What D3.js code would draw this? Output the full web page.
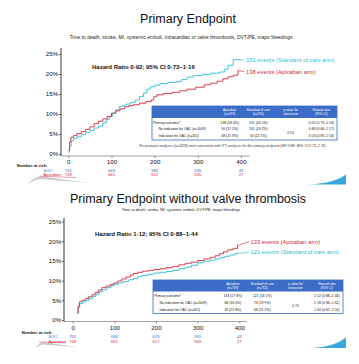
<!DOCTYPE html>
<html><head><meta charset="utf-8">
<script src="https://cdn.jsdelivr.net/npm/d3@7"></script>
<style>
html,body{margin:0;padding:0;background:#fff;}
svg{display:block;font-family:"Liberation Sans",Arial,Helvetica,sans-serif;}
</style></head><body>
<svg id="chart" width="359" height="364"></svg>
<script>
// ---------------- DATA ----------------
const titles = ["Primary Endpoint", "Primary Endpoint without valve thrombosis"];
const subtitles = [
  "Time to death, stroke, MI, systemic emboli, intracardiac or valve thrombosis, DVT/PE, major bleedings",
  "Time to death, stroke, MI, systemic emboli, DVT/PE, major bleedings"
];
const hazardTexts = ["Hazard Ratio 0·92; 95% CI 0·73–1·16", "Hazard Ratio 1·12; 95% CI 0·88–1·44"];
const yTicks = [0, 5, 10, 15, 20, 25];
const xTicks = [0, 100, 200, 300, 400];

// Kaplan–Meier curves: [day, cumulative incidence %]
const p1SOC = [[0,0.5],[3,2.0],[7,3.3],[12,3.9],[20,4.3],[30,4.8],[40,5.4],[50,5.9],[60,6.5],[70,7.0],[80,7.8],[88,8.6],[95,9.4],[102,10.2],[110,11.0],[118,11.9],[125,12.2],[135,12.5],[145,12.9],[155,13.5],[165,14.4],[174,15.2],[182,16.2],[190,16.8],[200,17.2],[212,17.6],[230,17.9],[250,18.1],[262,18.6],[275,19.2],[290,19.6],[310,19.9],[330,20.2],[350,20.5],[362,21.2],[370,22.2],[382,23.6],[398,23.6]];
const p1Apix = [[0,1.0],[3,3.0],[6,4.2],[12,4.6],[20,5.1],[30,5.6],[40,6.2],[50,6.8],[60,7.6],[70,8.2],[80,8.8],[90,9.4],[100,10.2],[110,10.8],[120,11.3],[130,11.8],[140,12.1],[150,12.3],[165,12.7],[180,13.1],[192,13.5],[198,14.3],[205,14.8],[220,15.1],[240,15.4],[258,15.8],[275,16.2],[295,16.7],[315,17.3],[330,17.7],[345,18.2],[358,18.8],[370,19.3],[382,19.7],[393,20.8],[397,20.8]];
const p2SOC = [[11,1.6],[13,3.2],[17,4.2],[24,4.6],[32,5.0],[40,5.4],[48,6.0],[56,6.6],[64,7.2],[72,7.7],[82,8.2],[92,8.7],[100,9.1],[110,9.4],[122,9.8],[134,10.2],[146,10.5],[156,11.0],[166,11.3],[180,11.6],[195,11.9],[210,12.1],[225,12.3],[240,12.6],[255,13.0],[270,13.4],[285,13.9],[300,14.5],[315,14.9],[330,15.2],[342,15.5],[355,15.9],[366,16.2],[378,16.5],[390,16.9],[400,16.9]];
const p2Apix = [[11,1.9],[13,3.5],[16,4.6],[22,5.0],[30,5.4],[38,5.9],[46,6.4],[54,7.0],[62,7.6],[70,8.2],[80,8.6],[90,9.0],[98,9.4],[108,9.9],[118,10.4],[128,10.9],[138,11.4],[146,11.8],[156,12.1],[168,12.4],[182,12.6],[195,12.8],[210,13.0],[225,13.3],[240,13.6],[255,14.0],[270,14.4],[285,14.7],[300,15.1],[315,15.5],[330,15.9],[342,16.3],[352,16.8],[362,17.3],[372,17.8],[385,18.2],[396,19.0],[398,19.0]];

const eventLabelsSOC = ["151 events (Standard of care arm)", "121 events (Standard of care arm)"];
const eventLabelsApix = ["138 events (Apixaban arm)", "133 events (Apixaban arm)"];

// Number at risk
const riskTitle = "Number at risk:";
const riskNames = ["SOC:", "Apixaban:"];
const p1RiskSOC = [751, 646, 585, 535, 45];
const p1RiskApix = [749, 665, 612, 565, 27];
const p2RiskSOC = [751, 666, 615, 551, 43];
const p2RiskApix = [749, 661, 617, 569, 27];

// Table
const tableHeaders = [["Apixaban", "(n=749)"], ["Standard of care", "(n=751)"], ["p value for", "interaction"], ["Hazard ratio", "(95% CI)"]];
const tableRowLabels = ["Primary outcome*", "No indication for OAC (n=1049)", "Indication for OAC (n=451)"];
const t1Apix = ["138 (18·4%)", "90 (17·2%)", "48 (21·3%)"];
const t1SOC = ["151 (20·1%)", "101 (19·2%)", "50 (22·1%)"];
const t1HR = ["0·92 (0·73–1·16)", "0·88 (0·66–1·17)", "1·03 (0·69–1·53)"];
const t1P = "0·51";
const t2Apix = ["133 (17·8%)", "84 (16·0%)", "49 (21·8%)"];
const t2SOC = ["121 (16·1%)", "73 (13·9%)", "48 (21·2%)"];
const t2HR = ["1·12 (0·88–1·44)", "1·18 (0·86–1·62)", "1·00 (0·67–1·50)"];
const t2P = "0·70";
const footnote = "Per-protocol analyses (n=1200) were consistent with ITT analyses for the primary endpoint (HR 0·88; 95% CI 0·71–1·11)";

// ---------------- STYLE / LAYOUT ----------------
const C_SOC = "#2cc0d6", C_APIX = "#cf2a3c", C_RISK_SOC = "#3a62c4", C_HEAD = "#3b6cc7";

const layouts = [
  { x0: 68.3, x1: 241, yB: 154, yT: 54, yAxisX: 61, yAxisTop: 48, xAxisY: 156, xAxisEnd: 250,
    titleY: 22.8, subY: 38.6, subSize: 4.95, hrX: 92, hrY: 68.8,
    socLblY: 62, apixLblY: 73.6, lblX: 246,
    tickLblY: 164.3, riskTitleX: 16.7, riskTitleY: 167.3, riskNameX: 43.3, riskY1: 171.5, riskY2: 176.3,
    tbl: { x: 152, w: 185, top: 106, headH: 12, rowH: 6.7, bodyH: 22 }, footY: 146.5 },
  { x0: 72.7, x1: 239.3, yB: 320, yT: 221.5, yAxisX: 64, yAxisTop: 218, xAxisY: 321.5, xAxisEnd: 247,
    titleY: 202.8, subY: 210.7, subSize: 3.9, hrX: 95, hrY: 236.3,
    socLblY: 254.2, apixLblY: 243.6, lblX: 250.5,
    tickLblY: 330, riskTitleX: 21.7, riskTitleY: 333.6, riskNameX: 48.3, riskY1: 338.4, riskY2: 343.4,
    tbl: { x: 153, w: 190, top: 280, headH: 11.5, rowH: 6.7, bodyH: 22 }, footY: null }
];

const panels = [
  { title: titles[0], sub: subtitles[0], hr: hazardTexts[0], soc: p1SOC, apix: p1Apix,
    socLbl: eventLabelsSOC[0], apixLbl: eventLabelsApix[0], riskSOC: p1RiskSOC, riskApix: p1RiskApix,
    tApix: t1Apix, tSOC: t1SOC, tHR: t1HR, tP: t1P, foot: footnote },
  { title: titles[1], sub: subtitles[1], hr: hazardTexts[1], soc: p2SOC, apix: p2Apix,
    socLbl: eventLabelsSOC[1], apixLbl: eventLabelsApix[1], riskSOC: p2RiskSOC, riskApix: p2RiskApix,
    tApix: t2Apix, tSOC: t2SOC, tHR: t2HR, tP: t2P, foot: null }
];

const svg = d3.select("#chart");
svg.append("rect").attr("width", 359).attr("height", 364).attr("fill", "#fff");

function decorations(yBottom, grayPts, bluePts) {
  // slide decorations (grey swoosh left, blue wedge right)
  const g = svg.append("g");
  g.append("path").attr("d", `M${grayPts[0]},${grayPts[1]} Q${grayPts[0]+6},${grayPts[3]} ${grayPts[2]},${grayPts[3]} L${grayPts[4]},${grayPts[5]} L${grayPts[2]},${grayPts[3]+2.5} Q${grayPts[0]+6},${grayPts[3]+3} ${grayPts[0]},${grayPts[1]} Z`)
    .attr("fill", "#c9c9c9");
  g.append("path").attr("d", `M${grayPts[2]-3},${grayPts[3]-0.3} L${grayPts[4]-12},${grayPts[3]+1}`)
    .attr("stroke", "#e0606a").attr("stroke-width", 0.6).attr("fill", "none");
  g.append("path").attr("d", `M${bluePts[0]},${bluePts[1]} Q${bluePts[2]-12},${bluePts[1]-1} ${bluePts[2]},${bluePts[3]} L${bluePts[2]},${bluePts[1]} Z`)
    .attr("fill", "#3aa6de");
}
decorations(0, [28, 184, 42, 176.5, 88, 183], [307, 184.5, 346, 174.5]);
decorations(0, [35, 348, 42, 342, 78, 347], [312, 348, 346, 337.5]);

function drawPanel(L, D) {
  const g = svg.append("g");
  const x = d3.scaleLinear().domain([0, 400]).range([L.x0, L.x1]);
  const y = d3.scaleLinear().domain([0, 25]).range([L.yB, L.yT]);

  g.append("text").attr("x", 188).attr("y", L.titleY).attr("text-anchor", "middle")
    .attr("font-size", 12.5).attr("fill", "#111").text(D.title);
  g.append("text").attr("x", 181).attr("y", L.subY).attr("text-anchor", "middle")
    .attr("font-size", L.subSize).attr("fill", "#222").text(D.sub);

  // Y axis
  const ya = g.append("g").attr("transform", `translate(${L.yAxisX},0)`)
    .call(d3.axisLeft(y).tickValues(yTicks).tickSize(2).tickSizeOuter(0).tickFormat(d => d + "%"));
  ya.select(".domain").remove();
  ya.selectAll("text").attr("font-size", 6.2).attr("fill", "#111").attr("x", -2.8).attr("font-family", null);
  ya.selectAll("line").attr("stroke", "#222").attr("stroke-width", 0.7);
  g.append("line").attr("x1", L.yAxisX).attr("x2", L.yAxisX).attr("y1", L.yAxisTop).attr("y2", L.xAxisY)
    .attr("stroke", "#222").attr("stroke-width", 0.9);

  // X axis
  const xa = g.append("g").attr("transform", `translate(0,${L.xAxisY})`)
    .call(d3.axisBottom(x).tickValues(xTicks).tickSize(2).tickSizeOuter(0));
  xa.select(".domain").remove();
  xa.selectAll("text").attr("font-size", 6.2).attr("fill", "#111").attr("y", null).attr("dy", null)
    .attr("transform", `translate(0,${L.tickLblY - L.xAxisY})`).attr("font-family", null);
  xa.selectAll("line").attr("stroke", "#444").attr("stroke-width", 0.6);
  g.append("line").attr("x1", L.yAxisX).attr("x2", L.xAxisEnd).attr("y1", L.xAxisY).attr("y2", L.xAxisY)
    .attr("stroke", "#666").attr("stroke-width", 0.6);

  // Curves
  const line = d3.line().x(d => x(d[0])).y(d => y(d[1])).curve(d3.curveStepAfter);
  g.append("path").datum(D.soc).attr("d", line).attr("fill", "none").attr("stroke", C_SOC).attr("stroke-width", 0.9);
  g.append("path").datum(D.apix).attr("d", line).attr("fill", "none").attr("stroke", C_APIX).attr("stroke-width", 0.9);

  // Hazard ratio
  g.append("text").attr("x", L.hrX).attr("y", L.hrY).attr("font-size", 6).attr("font-weight", "bold")
    .attr("fill", "#111").text(D.hr);

  // Event labels with leaders
  const socEnd = D.soc[D.soc.length - 1], apEnd = D.apix[D.apix.length - 1];
  g.append("path").attr("d", `M${x(socEnd[0])},${y(socEnd[1])} L${L.lblX - 1.5},${L.socLblY - 2}`)
    .attr("stroke", C_SOC).attr("stroke-width", 0.6).attr("fill", "none");
  g.append("path").attr("d", `M${x(apEnd[0])},${y(apEnd[1])} L${L.lblX - 1.5},${L.apixLblY - 2}`)
    .attr("stroke", C_APIX).attr("stroke-width", 0.6).attr("fill", "none");
  g.append("text").attr("x", L.lblX).attr("y", L.socLblY).attr("font-size", 5.8).attr("fill", C_SOC).text(D.socLbl);
  g.append("text").attr("x", L.lblX).attr("y", L.apixLblY).attr("font-size", 5.8).attr("fill", C_APIX).text(D.apixLbl);

  // Number at risk
  g.append("text").attr("x", L.riskTitleX).attr("y", L.riskTitleY).attr("font-size", 4.2).attr("font-weight", "bold")
    .attr("fill", "#111").text(riskTitle);
  g.append("text").attr("x", L.riskNameX).attr("y", L.riskY1).attr("font-size", 4.2).attr("fill", C_RISK_SOC).text(riskNames[0]);
  g.append("text").attr("x", L.riskNameX).attr("y", L.riskY2).attr("font-size", 4.2).attr("fill", C_APIX).text(riskNames[1]);
  g.selectAll(null).data(D.riskSOC).enter().append("text")
    .attr("x", (d, i) => x(xTicks[i])).attr("y", L.riskY1).attr("text-anchor", "middle")
    .attr("font-size", 4.2).attr("fill", C_RISK_SOC).text(d => d);
  g.selectAll(null).data(D.riskApix).enter().append("text")
    .attr("x", (d, i) => x(xTicks[i])).attr("y", L.riskY2).attr("text-anchor", "middle")
    .attr("font-size", 4.2).attr("fill", C_APIX).text(d => d);

  // Table
  const T = L.tbl;
  const cols = [0.42, 0.575, 0.75, 0.915].map(f => T.x + f * T.w);
  const tg = g.append("g");
  tg.append("rect").attr("x", T.x).attr("y", T.top).attr("width", T.w).attr("height", T.headH + T.bodyH)
    .attr("fill", "#fff").attr("stroke", C_HEAD).attr("stroke-width", 0.8);
  tg.append("rect").attr("x", T.x).attr("y", T.top).attr("width", T.w).attr("height", T.headH).attr("fill", C_HEAD);
  tableHeaders.forEach((h, i) => {
    h.forEach((line, j) => {
      tg.append("text").attr("x", cols[i]).attr("y", T.top + T.headH / 2 - 0.6 + j * 3.8)
        .attr("text-anchor", "middle").attr("font-size", 3.2).attr("fill", "#fff").text(line);
    });
  });
  const r0 = T.top + T.headH + 5.6;
  tableRowLabels.forEach((lab, i) => {
    const yy = r0 + i * T.rowH;
    tg.append("text").attr("x", T.x + (i === 0 ? 1.2 : 6.5)).attr("y", yy).attr("font-size", 3.4).attr("fill", "#111").text(lab);
    tg.append("text").attr("x", cols[0]).attr("y", yy).attr("text-anchor", "middle").attr("font-size", 3.4).attr("fill", "#111").text(D.tApix[i]);
    tg.append("text").attr("x", cols[1]).attr("y", yy).attr("text-anchor", "middle").attr("font-size", 3.4).attr("fill", "#111").text(D.tSOC[i]);
    tg.append("text").attr("x", cols[3]).attr("y", yy).attr("text-anchor", "middle").attr("font-size", 3.4).attr("fill", "#111").text(D.tHR[i]);
  });
  tg.append("text").attr("x", cols[2]).attr("y", r0 + 1.5 * T.rowH).attr("text-anchor", "middle")
    .attr("font-size", 3.4).attr("fill", "#111").text(D.tP);

  if (D.foot) {
    g.append("text").attr("x", 139).attr("y", L.footY).attr("font-size", 3.5).attr("font-style", "italic")
      .attr("fill", "#333").text(D.foot);
  }
}

layouts.forEach((L, i) => drawPanel(L, panels[i]));
</script>
</body></html>
